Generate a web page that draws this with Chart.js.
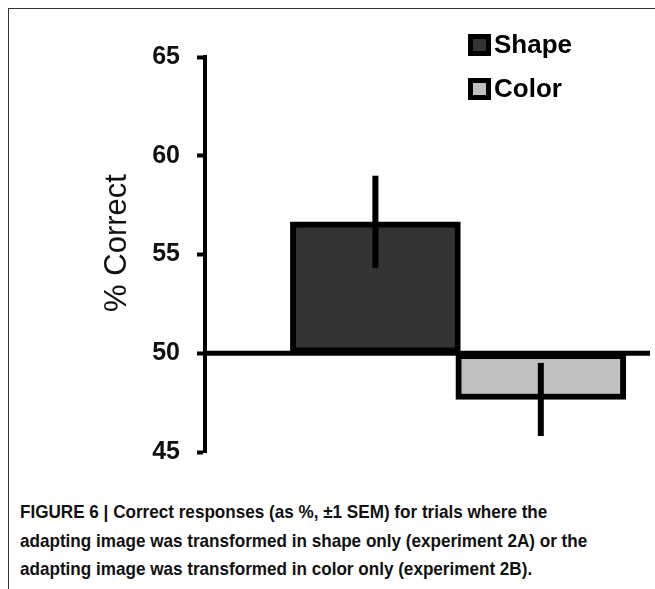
<!DOCTYPE html>
<html><head><meta charset="utf-8">
<script src="https://cdn.jsdelivr.net/npm/chart.js@4"></script>
<style>
html,body{margin:0;padding:0;background:#fff;}
#wrap{position:relative;width:655px;height:589px;overflow:hidden;}
#frame{position:absolute;left:8px;top:8px;width:660px;height:600px;border-top:1.5px solid #333;border-left:1.5px solid #333;}
#cv{position:absolute;left:0;top:0;}
#cap{position:absolute;left:20px;top:498px;width:720px;transform:scaleX(0.9);transform-origin:0 0;font-family:"Liberation Sans",Arial,sans-serif;font-weight:bold;font-size:19px;line-height:28.5px;color:#111;white-space:nowrap;}
</style></head>
<body><div id="wrap"><div id="frame"></div>
<canvas id="cv" width="655" height="484"></canvas>
<div id="cap">FIGURE 6 | Correct responses (as %, ±1 SEM) for trials where the<br>adapting image was transformed in shape only (experiment 2A) or the<br>adapting image was transformed in color only (experiment 2B).</div>
</div>
<script>
const categories = ['Shape', 'Color'];
const means = [56.65, 47.66];
const sems = [2.34, 1.85];
const baseline = 50;
const yTicks = [45, 50, 55, 60, 65];
const fills = ['#333333', '#c0c0c0'];

const datasets = categories.map((c, i) => ({
  label: c,
  data: [{x: i + 1, y: [baseline, means[i]]}],
  backgroundColor: fills[i],
  borderColor: '#000',
  borderWidth: 6,
  borderSkipped: false,
  barThickness: 170,
  grouped: false
}));

const extras = {
  id: 'extras',
  afterDatasetsDraw(chart) {
    const ctx = chart.ctx, y = chart.scales.y, x = chart.scales.x, a = chart.chartArea;
    ctx.save();
    ctx.strokeStyle = '#000'; ctx.lineWidth = 5;
    const yb = y.getPixelForValue(baseline);
    ctx.beginPath(); ctx.moveTo(a.left, yb); ctx.lineTo(a.right, yb); ctx.stroke();
    ctx.lineWidth = 6;
    categories.forEach((c, i) => {
      const px = x.getPixelForValue(i + 1);
      ctx.beginPath();
      ctx.moveTo(px, y.getPixelForValue(means[i] - sems[i]));
      ctx.lineTo(px, y.getPixelForValue(means[i] + sems[i]));
      ctx.stroke();
    });
    ctx.translate(117, 243); ctx.rotate(-Math.PI / 2);
    ctx.fillStyle = '#111'; ctx.font = '31px "Liberation Sans", Arial, sans-serif';
    ctx.textAlign = 'center'; ctx.textBaseline = 'middle';
    ctx.fillText('% Correct', 0, 0);
    ctx.restore();
    ctx.save();
    ctx.font = 'bold 26px "Liberation Sans", Arial, sans-serif';
    ctx.textBaseline = 'middle';
    chart.data.datasets.forEach((d, i) => {
      const ly = 45 + i * 44;
      ctx.fillStyle = '#000'; ctx.fillRect(468, ly - 11, 23, 22);
      ctx.fillStyle = d.backgroundColor; ctx.fillRect(473, ly - 6, 13, 12);
      ctx.fillStyle = '#000'; ctx.fillText(d.label, 494, ly + 1);
    });
    ctx.restore();
  }
};

new Chart(document.getElementById('cv'), {
  type: 'bar',
  data: { datasets },
  options: {
    responsive: false, animation: false,
    layout: { padding: { left: 0, top: 57, right: 5, bottom: 5 } },
    plugins: { legend: { display: false }, tooltip: { enabled: false } },
    scales: {
      x: { type: 'linear', min: -0.03, max: 2.66, offset: false, display: false },
      y: {
        min: 45, max: 65,
        afterFit(s) { s.width = 205; },
        afterBuildTicks(s) { s.ticks = yTicks.map(v => ({ value: v })); },
        border: { display: true, color: '#000', width: 4 },
        grid: { display: true, drawOnChartArea: false, color: '#000', tickLength: 8, tickWidth: 4 },
        ticks: { color: '#111', padding: 17, font: { family: '"Liberation Sans", Arial, sans-serif', weight: 'bold', size: 25 } }
      }
    }
  },
  plugins: [extras]
});
</script></body></html>
